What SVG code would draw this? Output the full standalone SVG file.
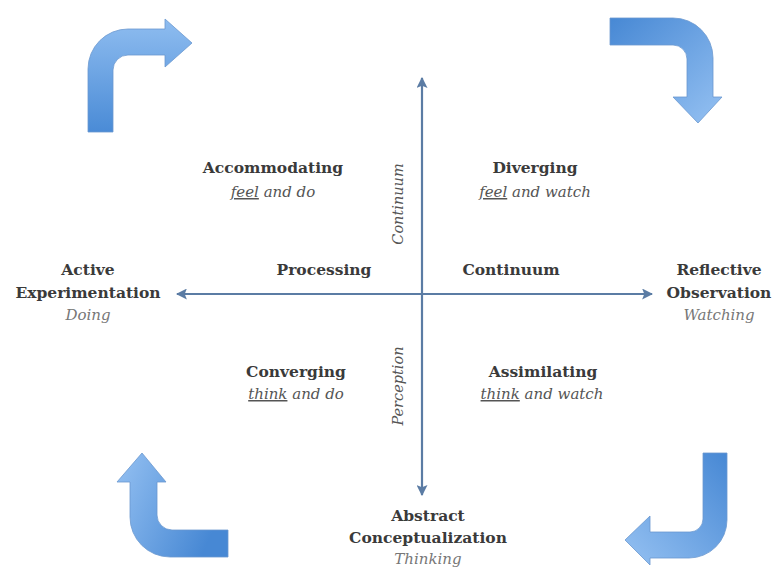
<svg xmlns="http://www.w3.org/2000/svg" width="775" height="570" viewBox="0 0 775 570">
<defs>
<style>
.b{font-family:"DejaVu Serif","Liberation Serif",serif;font-weight:bold;font-size:15.5px;fill:#3a3a3a;text-anchor:middle}
.i{font-family:"DejaVu Serif","Liberation Serif",serif;font-style:italic;font-size:15px;fill:#555;text-anchor:middle}
.g{font-family:"DejaVu Serif","Liberation Serif",serif;font-style:italic;font-size:15px;fill:#777;text-anchor:middle}
.r{font-family:"DejaVu Serif","Liberation Serif",serif;font-style:italic;font-size:14.5px;fill:#555;text-anchor:middle}
.ax{stroke:#5b7ca4;stroke-width:2.2;fill:none}
.ar{stroke:#6b98cf;stroke-width:0.8}
</style>
<marker id="ah" viewBox="0 0 10 10" refX="9" refY="5" markerWidth="5" markerHeight="5" orient="auto-start-reverse" markerUnits="strokeWidth">
<path d="M0,0 L10,5 L0,10 L2,5 Z" fill="#5b7ca4"/>
</marker>
<linearGradient id="gTL" x1="0" y1="0" x2="0" y2="1">
<stop offset="0" stop-color="#8fbdf0"/><stop offset="1" stop-color="#4a8bd6"/>
</linearGradient>
<linearGradient id="gTR" x1="0" y1="0" x2="1" y2="1">
<stop offset="0" stop-color="#4788d4"/><stop offset="1" stop-color="#95c1f2"/>
</linearGradient>
<linearGradient id="gBL" x1="0" y1="0" x2="1" y2="0.4">
<stop offset="0" stop-color="#95c1f2"/><stop offset="1" stop-color="#4788d4"/>
</linearGradient>
<linearGradient id="gBR" x1="1" y1="0" x2="0" y2="1">
<stop offset="0" stop-color="#4788d4"/><stop offset="1" stop-color="#95c1f2"/>
</linearGradient>
</defs>
<rect width="775" height="570" fill="#ffffff"/>

<g id="cycle-arrows">
<path id="arrow-tl" class="ar" fill="url(#gTL)" d="M88,132 L88,69 A40,40 0 0 1 128,29 L165,29 L165,19 L192,43 L165,67 L165,55 L128,55 A15,15 0 0 0 113,70 L113,132 Z"/>
<path id="arrow-tr" class="ar" fill="url(#gTR)" d="M610,18 L673,18 A40,40 0 0 1 713,58 L713,97 L722,97 L698,123 L673,97 L687,97 L687,59 A14,14 0 0 0 673,45 L610,45 Z"/>
<path id="arrow-bl" class="ar" fill="url(#gBL)" d="M142,453 L166,482 L157,482 L157,515 A15,15 0 0 0 172,530 L228,530 L228,557 L170,557 A40,40 0 0 1 130,517 L130,482 L117,482 Z"/>
<path id="arrow-br" class="ar" fill="url(#gBR)" d="M703,453 L727,453 L727,520 A38,38 0 0 1 689,558 L650,558 L650,565 L625,540 L650,516 L650,532 L690,532 A13,13 0 0 0 703,519 Z"/>
</g>

<g id="connectors">
<line class="ax" x1="422" y1="495" x2="422" y2="78" marker-start="url(#ah)" marker-end="url(#ah)"/>
<line class="ax" x1="652" y1="294" x2="177" y2="294" marker-start="url(#ah)" marker-end="url(#ah)"/>
</g>

<g id="active-experimentation">
<text class="b" x="88" y="275">Active</text>
<text class="b" x="88" y="298">Experimentation</text>
<text class="g" x="88" y="320">Doing</text>
</g>
<g id="reflective-observation">
<text class="b" x="719" y="275">Reflective</text>
<text class="b" x="719" y="298">Observation</text>
<text class="g" x="719" y="320">Watching</text>
</g>
<g id="abstract-conceptualization">
<text class="b" x="428" y="521">Abstract</text>
<text class="b" x="428" y="543">Conceptualization</text>
<text class="g" x="428" y="564">Thinking</text>
</g>
<g id="accommodating">
<text class="b" x="273" y="173">Accommodating</text>
<text class="i" x="273" y="197"><tspan text-decoration="underline">feel</tspan> and do</text>
</g>
<g id="diverging">
<text class="b" x="535" y="173">Diverging</text>
<text class="i" x="535" y="197"><tspan text-decoration="underline">feel</tspan> and watch</text>
</g>
<g id="converging">
<text class="b" x="296" y="377">Converging</text>
<text class="i" x="296" y="399"><tspan text-decoration="underline">think</tspan> and do</text>
</g>
<g id="assimilating">
<text class="b" x="543" y="377">Assimilating</text>
<text class="i" x="542" y="399"><tspan text-decoration="underline">think</tspan> and watch</text>
</g>
<g id="axis-labels">
<text class="b" x="324" y="275">Processing</text>
<text class="b" x="511" y="275">Continuum</text>
<text class="r" transform="translate(403,204) rotate(-90)">Continuum</text>
<text class="r" transform="translate(403,386) rotate(-90)">Perception</text>
</g>
</svg>
